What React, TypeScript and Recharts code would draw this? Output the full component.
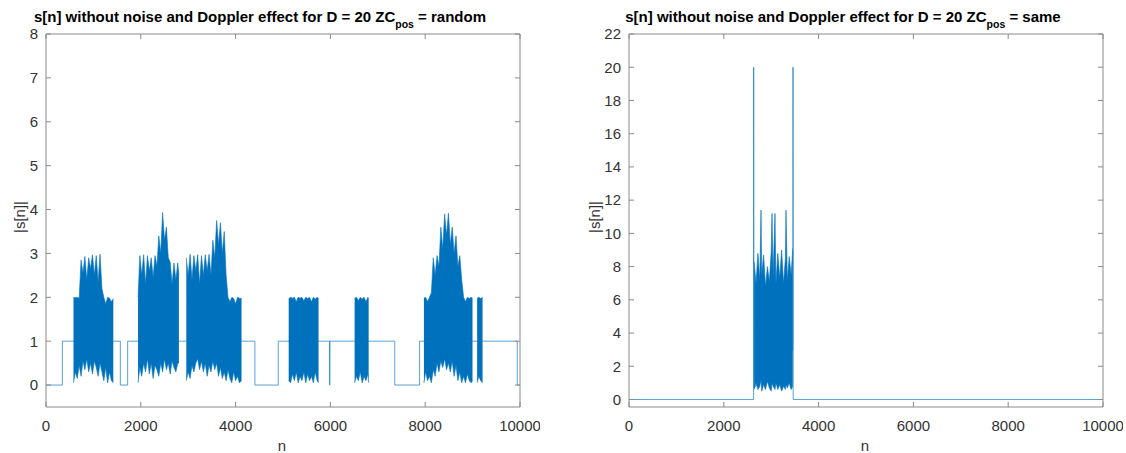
import { ComposedChart, Line, Area, XAxis, YAxis } from 'recharts';

const FONT = '"Liberation Sans", Arial, Helvetica, sans-serif';
const BLUE = '#0072BD';
const AXIS = '#8a8a8a';
const TEXT = '#333333';

const xTicks = [0, 2000, 4000, 6000, 8000, 10000];
const leftYTicks = [0, 1, 2, 3, 4, 5, 6, 7, 8];
const rightYTicks = [0, 2, 4, 6, 8, 10, 12, 14, 16, 18, 20, 22];

// |s[n]| outside the bursts: [n, level]
const leftSteps: [number, number][] = [
  [0, 0], [345, 0], [345, 1], [1568, 1], [1568, 0], [1723, 0], [1723, 1],
  [2880, 1], [4407, 1], [4407, 0], [4900, 0], [4900, 1], [5982, 1], [5986, 0],
  [5990, 1], [7358, 1], [7358, 0], [7881, 0], [7881, 1], [9050, 1], [9943, 1],
  [9943, 0], [10000, 0],
];

// bursts: [n, low, high]
const leftBurst1: [number, number, number][] = [
  [580, 0.05, 2.0], [620, 0.3, 1.99], [660, 0.15, 2.0], [700, 0.45, 1.98],
  [740, 0.2, 2.85], [780, 0.55, 2.55], [820, 0.35, 2.93], [860, 0.6, 2.4],
  [900, 0.3, 2.9], [940, 0.5, 2.65], [980, 0.25, 2.97], [1020, 0.55, 2.5],
  [1060, 0.4, 2.95], [1100, 0.2, 2.35], [1140, 0.5, 2.98], [1180, 0.3, 2.2],
  [1220, 0.1, 2.0], [1260, 0.4, 1.85], [1300, 0.05, 2.0], [1340, 0.3, 1.98],
  [1380, 0.1, 1.9], [1420, 0.05, 1.97],
];
const leftBurst2: [number, number, number][] = [
  [1942, 0.05, 2.0], [1980, 0.4, 2.95], [2020, 0.2, 2.5], [2060, 0.5, 2.97],
  [2100, 0.3, 2.3], [2140, 0.6, 2.95], [2180, 0.25, 2.6], [2220, 0.5, 2.9],
  [2260, 0.15, 2.45], [2300, 0.45, 2.95], [2340, 0.35, 2.7], [2380, 0.2, 3.4],
  [2420, 0.5, 3.0], [2460, 0.3, 3.93], [2500, 0.6, 3.3], [2540, 0.35, 3.6],
  [2580, 0.5, 2.9], [2620, 0.25, 2.8], [2660, 0.55, 2.3], [2700, 0.4, 2.78],
  [2740, 0.3, 2.4], [2780, 0.5, 2.78], [2804, 0.5, 2.5],
];
const leftBurst3: [number, number, number][] = [
  [2960, 0.1, 2.9], [3000, 0.3, 2.5], [3040, 0.15, 2.98], [3080, 0.45, 2.4],
  [3120, 0.3, 2.95], [3160, 0.5, 2.6], [3200, 0.6, 2.97], [3240, 0.35, 2.3],
  [3280, 0.55, 2.95], [3320, 0.3, 2.5], [3360, 0.5, 2.97], [3400, 0.2, 2.6],
  [3440, 0.45, 2.98], [3480, 0.3, 2.5], [3520, 0.55, 3.3], [3560, 0.35, 2.9],
  [3600, 0.5, 3.75], [3640, 0.2, 3.2], [3680, 0.4, 3.7], [3720, 0.15, 3.0],
  [3760, 0.3, 3.5], [3800, 0.1, 2.5], [3840, 0.35, 2.0], [3880, 0.15, 1.9],
  [3920, 0.05, 2.0], [3960, 0.3, 1.97], [4000, 0.1, 1.85], [4040, 0.2, 2.0],
  [4080, 0.05, 1.98], [4125, 0.1, 1.97],
];
const leftBurst4: [number, number, number][] = [
  [5120, 0.1, 1.97], [5160, 0.05, 2.0], [5200, 0.25, 1.98], [5240, 0.1, 2.0],
  [5280, 0.3, 1.9], [5320, 0.05, 2.0], [5360, 0.2, 1.98], [5400, 0.1, 2.0],
  [5440, 0.3, 1.92], [5480, 0.05, 2.0], [5520, 0.25, 1.97], [5560, 0.1, 2.0],
  [5600, 0.2, 1.9], [5640, 0.05, 2.0], [5680, 0.3, 1.96], [5720, 0.1, 2.0],
  [5750, 0.05, 1.98],
];
const leftBurst5: [number, number, number][] = [
  [6511, 0.05, 1.98], [6550, 0.2, 2.0], [6590, 0.1, 1.92], [6630, 0.3, 2.0],
  [6670, 0.05, 1.96], [6710, 0.2, 2.0], [6750, 0.1, 1.9], [6790, 0.25, 2.0],
  [6807, 0.05, 1.97],
];
const leftBurst6: [number, number, number][] = [
  [7973, 0.05, 1.98], [8010, 0.3, 2.0], [8050, 0.1, 1.9], [8090, 0.2, 2.0],
  [8130, 0.05, 2.1], [8170, 0.35, 2.9], [8210, 0.2, 2.5], [8250, 0.5, 2.95],
  [8290, 0.3, 2.7], [8330, 0.55, 3.6], [8370, 0.4, 3.1], [8410, 0.6, 3.9],
  [8450, 0.35, 3.4], [8490, 0.5, 3.92], [8530, 0.3, 3.2], [8570, 0.55, 3.6],
  [8610, 0.2, 3.0], [8650, 0.45, 3.4], [8690, 0.1, 2.7], [8730, 0.3, 2.95],
  [8770, 0.05, 2.4], [8810, 0.2, 2.0], [8850, 0.05, 1.9], [8890, 0.25, 2.0],
  [8930, 0.1, 1.97], [8970, 0.05, 2.0], [8998, 0.1, 1.98],
];
const leftBurst7: [number, number, number][] = [
  [9096, 0.05, 1.98], [9130, 0.2, 2.0], [9170, 0.1, 1.97], [9210, 0.05, 2.0],
];

const rightSteps: [number, number][] = [
  [0, 0], [2628, 0], [2630, 20], [2636, 0.7], [3458, 3], [3460, 20], [3464, 0],
  [10000, 0],
];
const rightBurst: [number, number, number][] = [
  [2640, 0.6, 8.3], [2680, 1.0, 7.0], [2720, 0.6, 8.8], [2760, 0.8, 7.2],
  [2785, 1.2, 11.4], [2800, 0.5, 7.5], [2840, 0.9, 8.7], [2880, 0.6, 6.8],
  [2920, 1.1, 8.0], [2960, 0.7, 7.1], [3000, 0.5, 8.9], [3017, 1.0, 11.2],
  [3040, 0.8, 7.4], [3080, 0.6, 11.2], [3100, 1.0, 7.0], [3140, 0.6, 8.8],
  [3180, 0.9, 7.3], [3220, 0.5, 9.0], [3260, 0.8, 7.0], [3300, 0.6, 8.5],
  [3312, 0.9, 11.4], [3340, 0.7, 7.2], [3380, 1.0, 8.6], [3420, 0.6, 7.5],
  [3455, 0.8, 9.1],
];

type Row = { n: number; base?: number; band?: [number, number] };

function buildRows(steps: [number, number][], bursts: [number, number, number][][]) {
  const rows: Row[] = [
    ...steps.map(([n, v]) => ({ n, base: v })),
    ...bursts.flat().map(([n, lo, hi]) => ({ n, band: [lo, hi] as [number, number] })),
  ];
  return rows.sort((a, b) => a.n - b.n);
}

const leftRows = buildRows(leftSteps, [
  leftBurst1, leftBurst2, leftBurst3, leftBurst4, leftBurst5, leftBurst6, leftBurst7,
]);
const rightRows = buildRows(rightSteps, [rightBurst]);

const tickStyle = { fill: TEXT, fontSize: 15, fontFamily: FONT };

function Panel({
  left,
  rows,
  yDomain,
  yTicks,
  title,
  yLabelX,
}: {
  left: number;
  rows: Row[];
  yDomain: [number, number];
  yTicks: number[];
  title: string;
  yLabelX: number;
}) {
  return (
    <div style={{ position: 'absolute', left, top: 0, width: 540, height: 453 }}>
      <ComposedChart
        width={540}
        height={453}
        data={rows}
        margin={{ top: 33, right: 19, bottom: 16, left: 0 }}
      >
        <XAxis
          dataKey="n"
          type="number"
          domain={[0, 10000]}
          ticks={xTicks}
          interval={0}
          height={30}
          tick={tickStyle}
          tickSize={-5}
          tickMargin={18}
          stroke={AXIS}
          allowDataOverflow
        />
        <XAxis
          xAxisId="top"
          dataKey="n"
          orientation="top"
          type="number"
          domain={[0, 10000]}
          ticks={xTicks}
          interval={0}
          height={1}
          tickSize={-5}
          tickFormatter={() => ''}
          stroke={AXIS}
          allowDataOverflow
        />
        <YAxis
          type="number"
          domain={yDomain}
          ticks={yTicks}
          interval={0}
          width={46}
          tick={tickStyle}
          tickSize={-5}
          tickMargin={13}
          stroke={AXIS}
          allowDataOverflow
        />
        <YAxis
          yAxisId="right"
          orientation="right"
          type="number"
          domain={yDomain}
          ticks={yTicks}
          interval={0}
          width={1}
          tickSize={-5}
          tickFormatter={() => ''}
          stroke={AXIS}
          allowDataOverflow
        />
        <Line
          xAxisId="top"
          yAxisId="right"
          dataKey="base"
          stroke="none"
          dot={false}
          activeDot={false}
          connectNulls
          isAnimationActive={false}
        />
        <Line
          dataKey="base"
          type="linear"
          stroke={BLUE}
          strokeOpacity={0.65}
          strokeWidth={1}
          dot={false}
          connectNulls
          isAnimationActive={false}
        />
        <Area
          dataKey="band"
          type="linear"
          stroke={BLUE}
          strokeWidth={0.6}
          fill={BLUE}
          fillOpacity={1}
          connectNulls={false}
          dot={false}
          activeDot={false}
          isAnimationActive={false}
        />
      </ComposedChart>
      <div
        style={{
          position: 'absolute',
          left: 260,
          top: 9,
          transform: 'translateX(-50%)',
          whiteSpace: 'nowrap',
          fontFamily: FONT,
          fontWeight: 'bold',
          fontSize: 15,
          lineHeight: '15px',
          color: '#000',
        }}
      >
        s[n] without noise and Doppler effect for D = 20 ZC
        <span style={{ fontSize: 10.5, position: 'relative', top: 6 }}>pos</span> = {title}
      </div>
      <div
        style={{
          position: 'absolute',
          left: yLabelX,
          top: 217,
          transform: 'translate(-50%, -50%) rotate(-90deg)',
          fontFamily: FONT,
          fontSize: 15,
          color: TEXT,
          whiteSpace: 'nowrap',
        }}
      >
        |s[n]|
      </div>
      <div
        style={{
          position: 'absolute',
          left: 282,
          top: 445,
          transform: 'translate(-50%, -50%)',
          fontFamily: FONT,
          fontSize: 15,
          color: TEXT,
        }}
      >
        n
      </div>
    </div>
  );
}

export default function App() {
  return (
    <div style={{ position: 'absolute', left: 0, top: 0, width: 1126, height: 453, background: '#fff' }}>
      <Panel left={0} rows={leftRows} yDomain={[-0.5, 8]} yTicks={leftYTicks} title="random" yLabelX={19} />
      <Panel left={583} rows={rightRows} yDomain={[-0.45, 22]} yTicks={rightYTicks} title="same" yLabelX={11} />
    </div>
  );
}
